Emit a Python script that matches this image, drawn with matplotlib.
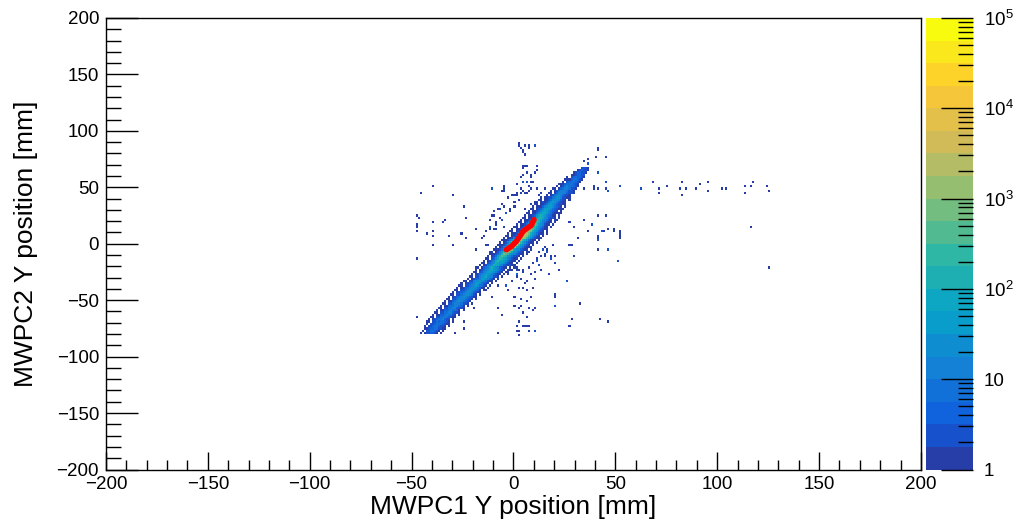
import numpy as np
import matplotlib
matplotlib.use("Agg")
import matplotlib.pyplot as plt
from matplotlib.colors import LinearSegmentedColormap, ListedColormap, BoundaryNorm
from matplotlib.ticker import MultipleLocator, LogLocator, NullFormatter

plt.rcParams['font.family'] = ['Liberation Sans', 'DejaVu Sans']
plt.rcParams['mathtext.fontset'] = 'custom'
plt.rcParams['mathtext.rm'] = 'Liberation Sans'

# main diagonal band: (y bin, first x bin, counts along x in 1 mm steps)
band_rows = [
    (-80, -44, "1 2 3 5 4 2 1 0 1"),
    (-78, -45, "1 0 2 3 6 8 4 3 1 0 1"),
    (-76, -44, "1 1 2 4 5 7 6 3 2 1 1"),
    (-74, -44, "1 0 1 3 4 6 8 5 3 2 1 0 1"),
    (-72, -43, "1 0 2 2 4 7 9 6 5 2 1 1"),
    (-70, -43, "1 1 0 2 3 6 5 9 6 4 2 1 0 1"),
    (-68, -42, "1 0 1 2 4 6 8 10 5 3 2 0 1"),
    (-66, -41, "1 1 0 2 3 6 7 11 8 4 2 1 1"),
    (-64, -40, "1 0 1 1 4 5 8 12 7 6 3 1 0 1"),
    (-62, -39, "1 1 0 2 3 7 9 13 10 5 2 2 1"),
    (-60, -38, "1 0 1 1 4 5 9 14 9 6 4 1 0 1"),
    (-58, -37, "1 1 0 2 3 7 8 14 12 5 3 2 1"),
    (-56, -36, "1 0 1 1 4 6 9 16 11 7 4 1 0 1"),
    (-54, -35, "1 1 0 2 3 7 10 15 14 6 3 2 1 0 1"),
    (-52, -34, "1 0 1 1 5 6 10 18 13 8 5 2 1"),
    (-50, -33, "1 1 0 2 3 8 12 16 17 8 4 3 1 0 1"),
    (-48, -32, "1 0 1 2 4 7 10 20 16 9 5 2 1 1"),
    (-46, -31, "1 1 0 2 3 8 14 18 22 10 6 3 1 0 1"),
    (-44, -30, "1 0 1 2 5 7 12 24 20 12 5 3 1 1"),
    (-42, -29, "1 1 0 2 3 9 14 20 28 14 7 4 1 0 1"),
    (-40, -28, "1 0 1 2 5 8 13 30 26 15 6 4 1 1 0 1"),
    (-38, -27, "1 1 0 2 3 9 16 24 36 18 8 6 2 1 0 1"),
    (-36, -26, "1 0 1 2 5 8 14 35 34 19 8 5 2 1 0 1"),
    (-34, -25, "1 1 0 2 3 10 20 28 45 24 10 8 2 1 1 0 1"),
    (-32, -23, "1 0 1 2 5 9 16 42 44 22 10 6 3 1 0 1"),
    (-30, -22, "1 1 0 2 3 11 22 33 58 30 14 10 3 2 1 0 1"),
    (-28, -21, "1 0 1 2 6 10 18 50 56 28 12 8 3 1 1 0 1"),
    (-26, -20, "1 1 0 2 4 12 25 38 75 40 18 13 4 2 1 0 1"),
    (-24, -19, "1 0 1 2 6 12 20 80 60 40 18 10 4 2 1 0 1 1"),
    (-22, -19, "1 1 0 1 4 8 14 45 100 55 24 16 5 2 1 1 0 1"),
    (-20, -17, "1 0 1 2 7 12 24 120 75 60 25 14 5 2 1 0 1 1"),
    (-18, -16, "1 1 0 2 4 15 30 150 90 55 35 22 8 3 1 1 0 1"),
    (-16, -15, "1 0 1 2 8 28 60 200 95 80 40 20 6 2 1 1 0 1"),
    (-14, -14, "1 1 0 2 5 18 70 260 140 90 35 15 9 3 1 1 0 1"),
    (-12, -13, "1 0 1 3 9 35 140 400 250 150 30 12 8 3 2 1 0 1"),
    (-10, -12, "1 1 0 2 6 22 100 600 400 300 50 20 12 4 2 1 1 0 1"),
    (-8, -11, "1 0 1 3 10 40 200 1100 700 400 60 25 14 4 2 1 0 1 1"),
    (-6, -10, "1 1 1 2 7 28 150 1600 1200 900 90 30 18 5 2 1 1 0 1"),
    (-4, -9, "1 0 1 3 12 50 300 2500 1800 1200 120 40 20 6 2 1 1 1"),
    (-2, -8, "1 1 1 3 8 35 200 3000 2500 2200 180 50 25 7 2 1 0 1"),
    (0, -7, "1 0 1 3 12 60 400 3500 3000 2600 200 60 30 8 3 1 1 0 1"),
    (2, -6, "1 1 1 2 9 45 300 3200 3000 2800 250 70 35 9 3 1 1 0 1"),
    (4, -5, "1 0 1 1 3 12 60 450 3000 2500 1500 220 70 30 8 2 1 1 1"),
    (6, -4, "1 1 0 1 2 9 40 350 2600 2400 1300 200 60 28 7 2 1 0 1"),
    (8, -3, "1 0 1 1 3 10 55 400 2200 1800 900 160 50 24 6 2 1 1 0 1"),
    (10, -2, "1 1 0 1 2 8 35 300 1600 1500 700 130 40 20 5 2 1 0 1"),
    (12, -1, "1 0 1 1 3 10 45 300 1200 1000 500 100 35 16 5 2 1 1"),
    (14, 0, "1 1 0 1 2 7 30 200 800 700 300 80 30 14 4 1 1 0 1"),
    (16, 1, "1 0 1 1 2 8 35 180 500 400 200 50 22 10 3 1 1 0 1"),
    (18, 2, "1 1 0 1 2 6 25 120 300 260 120 40 16 8 3 1 1 0 1"),
    (20, 3, "1 0 1 1 2 6 25 100 200 170 90 25 12 6 2 1 0 1 1"),
    (22, 4, "1 1 0 1 1 5 18 70 150 120 80 20 10 5 2 1 1 0 1"),
    (24, 5, "1 0 1 1 2 5 18 60 110 90 50 15 8 4 1 1 0 1"),
    (26, 6, "1 1 0 1 1 4 14 45 85 70 40 12 6 3 1 1 0 1"),
    (28, 7, "1 0 1 1 2 5 14 40 70 55 30 9 5 3 1 0 1"),
    (30, 8, "1 1 0 1 1 4 11 32 55 45 26 8 4 2 1 1"),
    (32, 9, "1 0 1 1 1 4 12 30 45 38 20 6 4 2 1 0 1"),
    (34, 10, "1 1 0 1 1 3 9 24 38 30 17 5 3 2 1 1"),
    (36, 11, "1 0 1 1 1 3 9 22 32 25 14 4 3 1 1"),
    (38, 12, "1 1 0 1 1 3 8 18 27 20 12 4 2 1 0 1"),
    (40, 13, "1 0 1 1 1 3 7 16 22 18 10 3 2 1 1"),
    (42, 16, "1 0 1 2 6 14 19 15 9 3 2 1"),
    (44, 17, "1 1 0 1 4 10 16 14 12 5 3 2 1"),
    (46, 18, "1 0 1 2 6 12 14 12 7 3 2 1"),
    (48, 19, "1 1 0 1 4 9 12 10 8 3 2 1"),
    (50, 21, "1 0 1 2 6 10 9 7 4 2 1"),
    (52, 22, "1 1 1 4 8 9 6 5 2 1"),
    (54, 24, "1 0 2 5 8 6 4 3 1"),
    (56, 25, "1 1 1 4 7 6 4 3 1"),
    (58, 26, "1 0 2 5 6 5 4 2 1"),
    (60, 28, "1 1 3 5 5 3 2"),
    (62, 29, "1 2 4 4 3 2 1"),
    (64, 31, "1 3 4 3 2 1"),
    (66, 33, "2 3 2 1"),
]

# isolated cells away from the band (x [mm], y [mm], entries)
iso_x = [2, 5, 10, 3, 7, 4, 5, 2, 4, 7, 10, 4, 5, 6, 4, 8, 11, 3, 6, 9, 4,
         41, 41, 36, 40, 45, 34, 36, 41, 45, 52, 62, 39, 41, 46,
         6, 8, 11, 10, 6, 8, 4, 7, -5, 3, 7, -5, -1, 1, 5, 1, 6, -11, -5, 0, 3, 6, 11, 12, 10,
         -46, -40, -30, -11, -6, -25, -24, -48, -47, -48, -48, -48, -40, -40, -40, -43,
         -34, -35, -32, -30, -40, -26, -24, -19, -19, -15, -14, -12, -12, -9,
         -11, -8, -6, -5, 0, -7, -10, -6, -9, -12, -10, -5,
         -48, -48, -46, -43,
         27, 29, 34, 38, 41, 45, 43, 46, 49, 52, 52, 41, 41, 31, 28, 27, 46, 51, 41, 29,
         20, 15, 26, 20, 20, 32, 28, 27, 42, 46, 10, 7, 2, -8, -29, -25, -25,
         -1, 1, 1, 3, 2, 4, 6, 2, 4, 6, 0, 3, 6, 8, 0, 2, 4, 7, 1, 3, 2, 6, 9,
         1, 5, 4, 6, 7, 1, 2, 10, -8, -6, -3, -4, 9, 10,
         -8, -4, -11, -14, -20, 15, 19, 18, 20, 20, 26, 11, 10,
         41, 45, 52, 39, 45, 46, 34, 62, 68, 71, 71, 75, 82, 81, 84, 82, 89, 91,
         95, 95, 102, 104, 113, 113, 116, 117, 124, 125, 116, 125,
         38, 36, 43, 44, 49, 52, 52, 41, 41, 46, 51,
         14, 16, 12, 18, 13, 17, -2, 5, 8, 12, 14, 22, 24, 17, 19, -3, 1,
         -12, -10, -8, -6, -4, -2, 0, -3, 1, 4, 7, 9, 11, 13, 15, 12, 16, 8, 10, -1, 5,
         -9, -7, -4, -2, 0, 2, -6, -10, -12, -3, 1, 4, 8, 13, 15, -14, -16, -13, 20, 22]
iso_y = [87, 87, 86, 84, 84, 81, 78, 88, 83, 86, 86, 68, 68, 62, 61, 61, 68, 58, 54, 54, 67,
         84, 82, 75, 76, 77, 72, 70, 63, 55, 51, 48, 49, 48, 46,
         68, 59, 64, 62, 54, 54, 54, 51, 51, 48, 46, 47, 43, 45, 45, 53, 54, 48, 48, 43, 44, 44, 48, 42, 37,
         45, 50, 42, 49, 47, 33, 23, 25, 23, 16, 14, 10, 18, 10, 6, 8,
         21, 19, 7, -1, -1, 9, 4, 13, -5, 6, -1, 15, 12, 13,
         25, 30, 21, 32, 36, 30, 25, 21, 17, 15, 12, 14,
         -66, -14, -80, -80,
         18, 14, 21, 16, 24, 24, 11, 12, 13, 9, 5, 6, 2, 4, -1, -1, -5, -16, -6, -11,
         -12, -11, -33, -46, -56, -53, -67, -73, -68, -70, -78, -73, -77, -80, -80, -76, -70,
         -24, -24, -30, -32, -24, -24, -34, -39, -40, -41, -48, -49, -51, -48, -55, -58, -61, -58, -28, -56, -69, -65, -59,
         -73, -74, -73, -74, -77, -77, -81, -78, -58, -63, -41, -37, -40, -58,
         -38, -38, -48, -41, -58, -4, -1, -11, -47, -56, -33, -14, -26,
         62, 55, 51, 50, 49, 46, 48, 48, 54, 49, 45, 50, 54, 48, 49, 42, 49, 52,
         54, 47, 48, 49, 50, 45, 50, 54, 50, 46, 14, -22,
         16, 11, 11, 10, 11, 10, 6, 5, 2, -5, -16,
         -6, -8, -20, -14, -24, -28, 28, 31, 34, 30, 36, 26, 30, 40, 22, -27, -22,
         -7, -9, -12, -15, -18, -20, -22, -26, -27, -26, -21, -18, -15, -12, -9, -7, -5, -28, -31, -33, -36,
         18, 22, 26, 30, 33, 38, 35, 28, 20, 40, 42, 46, 48, 45, 48, 10, 4, -2, -18, -24]
iso_n = [1, 1, 1, 1, 1, 1, 1, 1, 1, 1, 1, 1, 1, 1, 1, 1, 1, 1, 1, 1, 1,
         1, 1, 1, 1, 1, 1, 2, 1, 1, 1, 1, 1, 1, 1,
         1, 1, 1, 1, 1, 1, 2, 1, 1, 1, 1, 1, 1, 1, 1, 1, 1, 1, 1, 1, 1, 1, 1, 1, 1,
         1, 1, 1, 1, 1, 1, 1, 1, 1, 1, 1, 1, 1, 1, 1, 1,
         1, 1, 1, 1, 1, 1, 1, 1, 1, 1, 1, 1, 1, 1,
         1, 1, 1, 1, 1, 1, 1, 1, 1, 1, 1, 1,
         1, 1, 1, 1,
         1, 1, 1, 1, 1, 1, 1, 1, 1, 1, 1, 1, 1, 1, 1, 1, 1, 1, 1, 1,
         1, 1, 1, 1, 1, 1, 1, 1, 1, 1, 1, 1, 1, 1, 1, 1, 1,
         1, 1, 1, 1, 1, 1, 1, 1, 1, 1, 1, 1, 1, 1, 1, 1, 1, 1, 2, 1, 1, 1, 1,
         1, 1, 1, 1, 1, 1, 1, 1, 1, 1, 1, 1, 1, 1,
         1, 1, 1, 1, 1, 1, 1, 1, 1, 1, 1, 1, 1,
         1, 1, 1, 1, 1, 1, 1, 1, 1, 1, 1, 1, 1, 1, 1, 1, 1, 1,
         1, 1, 1, 1, 1, 1, 1, 1, 1, 1, 1, 1,
         1, 1, 1, 1, 1, 1, 1, 1, 1, 1, 1,
         2, 2, 2, 2, 1, 1, 1, 1, 1, 1, 1, 1, 1, 1, 1, 1, 1,
         1, 1, 2, 1, 1, 2, 1, 1, 2, 1, 1, 1, 2, 1, 1, 1, 1, 1, 1, 1, 1,
         1, 1, 2, 1, 1, 1, 1, 1, 1, 1, 1, 1, 1, 1, 1, 1, 1, 1, 1, 1]

# red profile drawn on top of the core
prof_x = [-3.5, -1.0, 1.4, 3.1, 4.7, 6.8, 8.8, 9.6, 10.1]
prof_y = [-5.3, -2.3, 2.1, 6.5, 11.0, 13.9, 16.3, 19.8, 21.3]

# ROOT kBird palette
bird_stops = [0.0, 0.125, 0.25, 0.375, 0.5, 0.625, 0.75, 0.875, 1.0]
bird_r = [0.2082, 0.0592, 0.0780, 0.0232, 0.1802, 0.5301, 0.8186, 0.9956, 0.9764]
bird_g = [0.1664, 0.3599, 0.5041, 0.6419, 0.7178, 0.7492, 0.7328, 0.7862, 0.9832]
bird_b = [0.5293, 0.8684, 0.8385, 0.7914, 0.6425, 0.4662, 0.3499, 0.1968, 0.0539]

# collect cells
xs, ys, ws = [], [], []
for y, x0, s in band_rows:
    for i, c in enumerate(s.split()):
        if int(c) > 0:
            xs.append(x0 + i + 0.5)
            ys.append(y + 1)
            ws.append(int(c))
for x, y, n in zip(iso_x, iso_y, iso_n):
    xs.append(x + 0.5)
    ys.append(y)
    ws.append(n)

xedges = np.arange(-200, 201, 1)
yedges = np.arange(-200, 201, 2)
H, _, _ = np.histogram2d(xs, ys, bins=[xedges, yedges], weights=ws)
H = np.ma.masked_less(H.T, 1)

bird = LinearSegmentedColormap.from_list(
    'bird', list(zip(bird_stops, zip(bird_r, bird_g, bird_b))), N=255)
ndiv = 20
cols = [bird(int((i + 0.99) * 255 / ndiv) / 254.0) for i in range(ndiv)]
cmap = ListedColormap(cols)
levels = 10 ** (np.arange(ndiv + 1) / 4.0)
norm = BoundaryNorm(levels, ndiv)

fig = plt.figure(figsize=(10.19, 5.24), dpi=100)
ax = fig.add_axes([0.104, 0.104, 0.7998, 0.8617])
ax.pcolormesh(xedges, yedges, H, cmap=cmap, norm=norm)
ax.plot(prof_x, prof_y, color='red', lw=4, solid_capstyle='round')

ax.set_xlim(-200, 200)
ax.set_ylim(-200, 200)
ax.xaxis.set_major_locator(MultipleLocator(50))
ax.xaxis.set_minor_locator(MultipleLocator(10))
ax.yaxis.set_major_locator(MultipleLocator(50))
ax.yaxis.set_minor_locator(MultipleLocator(10))
ax.tick_params(which='both', direction='in', labelsize=13.5, width=1, pad=5)
ax.tick_params(axis='x', which='major', length=13)
ax.tick_params(axis='x', which='minor', length=7)
ax.tick_params(axis='y', which='major', length=23)
ax.tick_params(axis='y', which='minor', length=11)
for sp in ax.spines.values():
    sp.set_linewidth(1)
ax.set_xlabel('MWPC1 Y position [mm]', fontsize=19, labelpad=1)
ax.set_ylabel('MWPC2 Y position [mm]', fontsize=19, labelpad=13)

# palette
cax = fig.add_axes([0.9087, 0.104, 0.0461, 0.8617])
cax.pcolormesh([0, 1], levels, np.arange(ndiv).reshape(-1, 1), cmap=cmap,
               vmin=-0.5, vmax=ndiv - 0.5)
cax.set_yscale('log')
cax.set_ylim(1, 1e5)
cax.set_xlim(0, 1)
cax.set_xticks([])
for sp in cax.spines.values():
    sp.set_visible(False)
cax.yaxis.tick_right()
cax.yaxis.set_minor_locator(LogLocator(base=10, subs=np.arange(2, 10), numticks=20))
cax.yaxis.set_minor_formatter(NullFormatter())
cax.set_yticks([1, 10, 100, 1000, 1e4, 1e5])
cax.set_yticklabels(['1', '10', r'$\mathregular{10^{2}}$', r'$\mathregular{10^{3}}$',
                     r'$\mathregular{10^{4}}$', r'$\mathregular{10^{5}}$'])
cax.tick_params(which='both', direction='in', width=1, labelsize=13.5, pad=8)
cax.tick_params(which='major', length=23)
cax.tick_params(which='minor', length=11)

fig.savefig('out.png', dpi=100)
